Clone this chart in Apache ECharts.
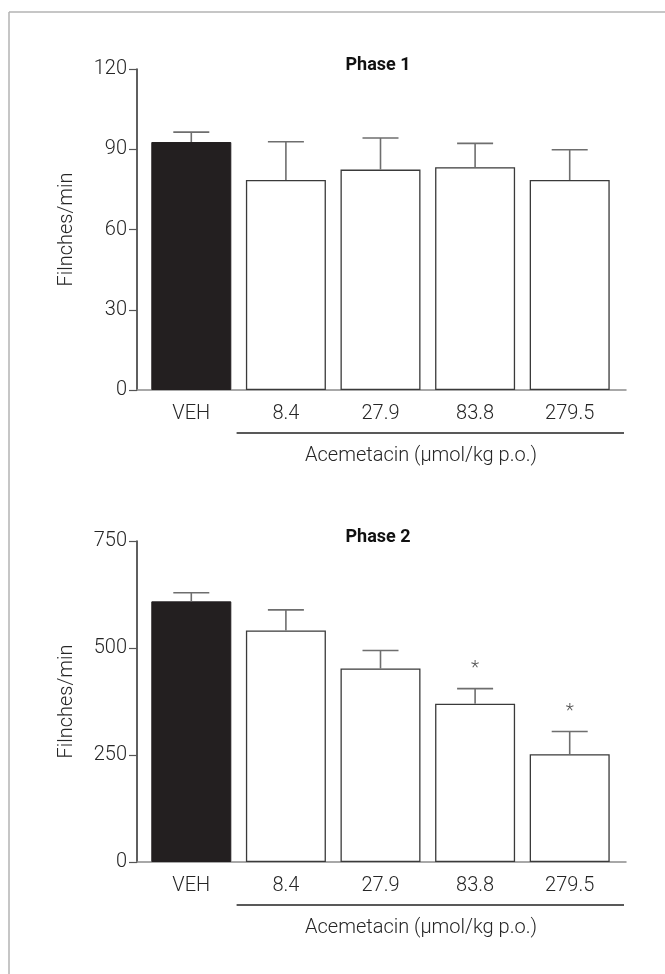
<!DOCTYPE html>
<html>
<head>
<meta charset="utf-8">
<title>Acemetacin formalin test</title>
<script src="https://cdn.jsdelivr.net/npm/echarts@6/dist/echarts.min.js"></script>
<style>
  html, body { margin: 0; padding: 0; background: #fff; }
  #chart { width: 665px; height: 974px; }
</style>
</head>
<body>
<div id="chart"></div>
<script>
// Doses (VEH = vehicle) and flinch counts, mean and SEM per group
const categories = ['VEH', '8.4', '27.9', '83.8', '279.5'];
const phase1Mean = [92.7, 78.5, 82.4, 83.3, 78.5];
const phase1Sem  = [3.7, 14.3, 11.8, 8.9, 11.3];
const phase2Mean = [609, 541, 452, 370, 252];
const phase2Sem  = [20, 48, 42, 35, 53];
const phase2Marks = ['', '', '', '*', '*'];
const phase1Ticks = { min: 0, max: 120, interval: 30 };
const phase2Ticks = { min: 0, max: 750, interval: 250 };
const yTitle = 'Filnches/min';
const xTitle = 'Acemetacin (\u03bcmol/kg p.o.)';
const panelTitles = ['Phase 1', 'Phase 2'];

// Layout
const FONT = 'Roboto, "Noto Sans", sans-serif';
const TEXT = '#262626';
const axisLeft = 137, axisRight = 626;
const barsLeft = 144, barsWidth = 473;
const panelTop = [69, 541];
const panelHeight = 321;
const band = barsWidth / categories.length;

const chart = echarts.init(document.getElementById('chart'));

function panel(p, means, sems, ticks, marks) {
  const gA = p * 2, gB = p * 2 + 1;
  const grids = [
    { left: axisLeft, top: panelTop[p], width: axisRight - axisLeft, height: panelHeight },
    { left: barsLeft, top: panelTop[p], width: barsWidth, height: panelHeight }
  ];
  const xAxes = [
    { gridIndex: gA, type: 'category', data: categories,
      axisLine: { lineStyle: { color: '#8c8c8c', width: 1.5 } },
      axisTick: { show: false }, axisLabel: { show: false } },
    { gridIndex: gB, type: 'category', data: categories,
      axisLine: { show: false }, axisTick: { show: false },
      axisLabel: { color: TEXT, fontFamily: FONT, fontWeight: 300, fontSize: 20, margin: 14 } }
  ];
  const yAxes = [
    { gridIndex: gA, type: 'value', min: ticks.min, max: ticks.max, interval: ticks.interval,
      name: yTitle, nameLocation: 'middle', nameGap: 60,
      nameTextStyle: { color: TEXT, fontFamily: FONT, fontWeight: 300, fontSize: 20 },
      splitLine: { show: false },
      axisLine: { show: true, lineStyle: { color: '#2a2a2a', width: 1.5 } },
      axisTick: { show: true, length: 8, lineStyle: { color: '#555', width: 1.2 } },
      axisLabel: { color: TEXT, fontFamily: FONT, fontWeight: 300, fontSize: 20, margin: 10 } },
    { gridIndex: gB, type: 'value', min: ticks.min, max: ticks.max, show: false }
  ];
  const bars = {
    type: 'bar', xAxisIndex: gB, yAxisIndex: gB, barWidth: 80, z: 3,
    data: means.map((v, i) => ({
      value: v,
      itemStyle: i === 0
        ? { color: '#231f20', borderColor: '#231f20', borderWidth: 1 }
        : { color: '#fff', borderColor: '#3a3a3a', borderWidth: 1.3 }
    }))
  };
  const errors = {
    type: 'custom', xAxisIndex: gB, yAxisIndex: gB, z: 4,
    data: means.map((v, i) => [i, v, v + sems[i]]),
    encode: { x: 0, y: [1, 2] },
    renderItem: function (params, api) {
      const i = api.value(0);
      const base = api.coord([i, api.value(1)]);
      const top = api.coord([i, api.value(2)]);
      const style = { stroke: '#6e6e6e', lineWidth: 1.6 };
      const children = [
        { type: 'line', shape: { x1: base[0], y1: base[1], x2: top[0], y2: top[1] }, style: style },
        { type: 'line', shape: { x1: top[0] - 18, y1: top[1], x2: top[0] + 18, y2: top[1] }, style: style }
      ];
      if (marks && marks[i]) {
        children.push({
          type: 'text',
          style: { text: marks[i], x: top[0], y: top[1] - 11, align: 'center', verticalAlign: 'bottom',
                   fill: '#555', font: '300 19px ' + FONT }
        });
      }
      return { type: 'group', children: children };
    }
  };
  return { grids, xAxes, yAxes, series: [bars, errors] };
}

const p1 = panel(0, phase1Mean, phase1Sem, phase1Ticks, null);
const p2 = panel(1, phase2Mean, phase2Sem, phase2Ticks, phase2Marks);

const graphics = [
  // page frame (top and left rules)
  { type: 'line', shape: { x1: 9, y1: 12, x2: 665, y2: 12 }, style: { stroke: '#b3b3b3', lineWidth: 1.5 } },
  { type: 'line', shape: { x1: 9, y1: 12, x2: 9, y2: 974 }, style: { stroke: '#b3b3b3', lineWidth: 1.5 } }
];
panelTop.forEach(function (t) {
  const axisY = t + panelHeight;
  graphics.push({ type: 'line',
    shape: { x1: barsLeft + band - 2, y1: axisY + 43, x2: axisRight - 2, y2: axisY + 43 },
    style: { stroke: '#222', lineWidth: 1.5 } });
  graphics.push({ type: 'text', x: 421, y: axisY + 66,
    style: { text: xTitle, align: 'center', verticalAlign: 'middle', fill: TEXT,
             font: '300 20px ' + FONT } });
});

chart.setOption({
  animation: false,
  backgroundColor: '#fff',
  title: panelTitles.map(function (txt, k) {
    return { text: txt, left: 373, top: panelTop[k] - 18, textAlign: 'center',
             textStyle: { fontFamily: FONT, fontWeight: 'bold', fontSize: 18, color: '#111' } };
  }),
  grid: p1.grids.concat(p2.grids),
  xAxis: p1.xAxes.concat(p2.xAxes),
  yAxis: p1.yAxes.concat(p2.yAxes),
  series: p1.series.concat(p2.series),
  graphic: graphics
});
</script>
</body>
</html>
